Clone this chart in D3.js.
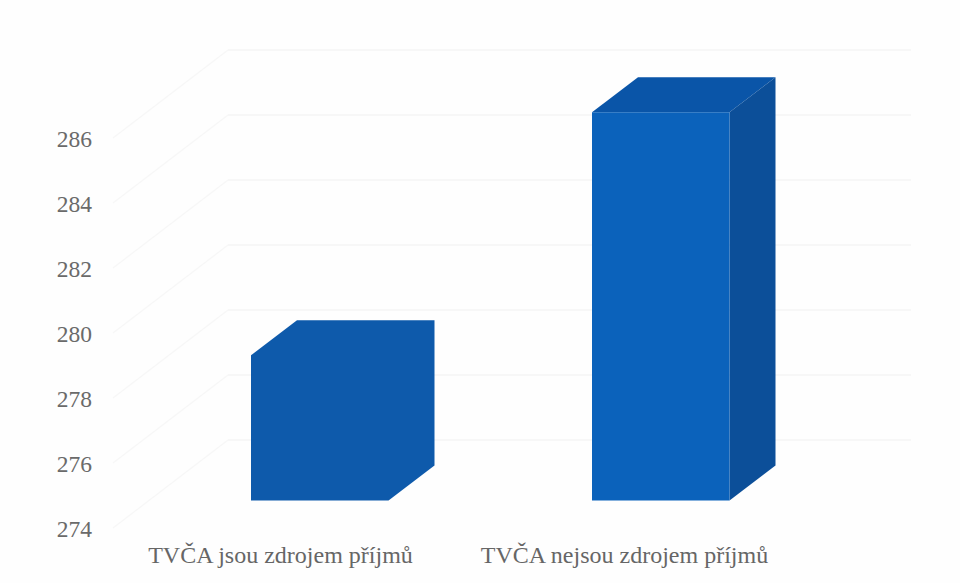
<!DOCTYPE html>
<html><head><meta charset="utf-8">
<script src="https://cdnjs.cloudflare.com/ajax/libs/d3/7.8.5/d3.min.js"></script>
<style>html,body{margin:0;padding:0;background:#fefefe}svg{display:block}</style>
</head><body><svg id="c" width="960" height="583"></svg>
<script>
const categories = ["TVČA jsou zdrojem příjmů", "TVČA nejsou zdrojem příjmů"];
const values = [278.47, 285.95];
const tickValues = [274, 276, 278, 280, 282, 284, 286];

const svg = d3.select("#c");
const y = d3.scaleLinear().domain([274, 286]).range([390, 0]);
const labelTop = 139, wallTop = 50, barTop = 110.5;
const x = d3.scaleBand().domain(categories).range([251, 729.5]).paddingInner(1 - 137.5 / 341).paddingOuter(0);
const xLabel = d3.scalePoint().domain(categories).range([280.5, 624.5]);
const wallL = 228, wallR = 911, frontL = 113;
const dx = 46, dy = 35;

const gG = svg.append("g");
tickValues.forEach(t => {
  const yy = wallTop + y(t);
  gG.append("line").attr("x1", wallL).attr("x2", wallR).attr("y1", yy).attr("y2", yy)
    .attr("stroke", "#f4f4f4").attr("stroke-width", 1.5);
  gG.append("line").attr("x1", frontL).attr("x2", wallL).attr("y1", labelTop + y(t) - 1).attr("y2", yy)
    .attr("stroke", "#f7f7f7").attr("stroke-width", 1.2);
});

const palettes = [
  {front:"#0e5aab", top:"#0e5aab", side:"#0e5aab"},
  {front:"#0b62bb", top:"#0a55a8", side:"#0c4f99"}
];
const poly = pts => pts.map(p => p.join(",")).join(" ");
const bars = svg.append("g");
categories.forEach((c, i) => {
  const l = x(c), r = l + x.bandwidth(), t = barTop + y(values[i]), b = barTop + y(274);
  const p = palettes[i];
  if (p.front === p.top && p.top === p.side) {
    // faces share one colour: draw the outline as a single shape, so no seams show
    bars.append("polygon")
      .attr("points", poly([[l,t],[l+dx,t-dy],[r+dx,t-dy],[r+dx,b-dy],[r,b],[l,b]]))
      .attr("fill", p.front);
    return;
  }
  bars.append("polygon").attr("points", poly([[l,t],[l+dx,t-dy],[r+dx,t-dy],[r,t]])).attr("fill", p.top);
  bars.append("polygon").attr("points", poly([[r,t],[r+dx,t-dy],[r+dx,b-dy],[r,b]])).attr("fill", p.side);
  bars.append("polygon").attr("points", poly([[l,t],[r,t],[r,b],[l,b]])).attr("fill", p.front);
});

const font = "'Liberation Serif', serif";
svg.append("g").selectAll("text").data(tickValues).join("text")
  .attr("x", 92).attr("y", d => labelTop + y(d)).attr("dy", "0.35em")
  .attr("text-anchor", "end").attr("font-family", font).attr("font-size", 23.5)
  .attr("fill", "#6a6a6a").text(d => d);
svg.append("g").selectAll("text").data(categories).join("text")
  .attr("x", d => xLabel(d)).attr("y", 563).attr("text-anchor", "middle")
  .attr("font-family", font).attr("font-size", 24).attr("fill", "#666").text(d => d);
</script></body></html>
